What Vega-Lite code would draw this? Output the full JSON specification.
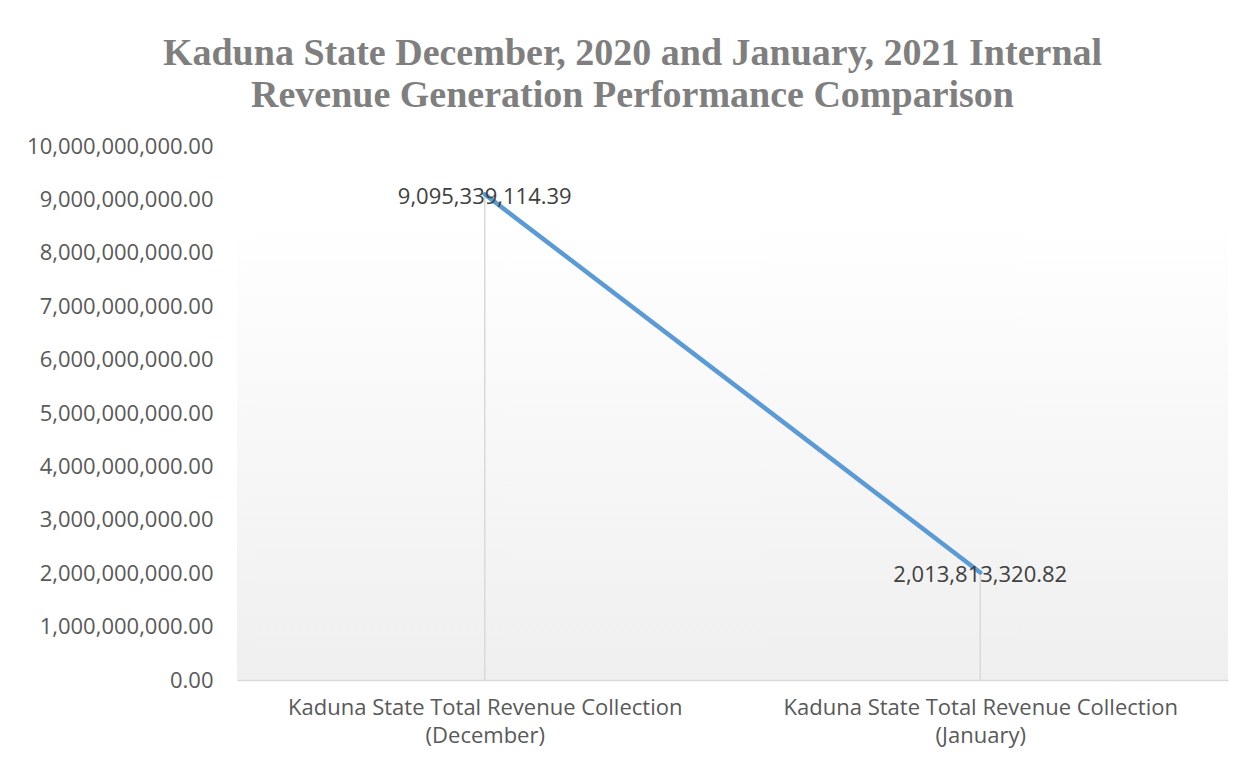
{
  "$schema": "https://vega.github.io/schema/vega-lite/v6.json",
  "width": 991,
  "height": 534,
  "autosize": {"type": "none"},
  "padding": {"left": 237, "top": 146, "right": 25, "bottom": 86},
  "background": "#ffffff",
  "title": {
    "text": ["Kaduna State December, 2020 and January, 2021 Internal", "Revenue Generation Performance Comparison"],
    "font": "Liberation Serif",
    "fontSize": 38,
    "fontWeight": "bold",
    "color": "#7f7f7f",
    "anchor": "middle",
    "dx": -100,
    "offset": 20,
    "lineHeight": 42
  },
  "data": {
    "values": [
      {"category": "Kaduna State Total Revenue Collection\n(December)", "order": 1, "revenue": 9095339114.39},
      {"category": "Kaduna State Total Revenue Collection\n(January)", "order": 2, "revenue": 2013813320.82}
    ]
  },
  "encoding": {
    "x": {
      "field": "category",
      "type": "nominal",
      "sort": {"field": "order"},
      "scale": {"type": "point", "padding": 0.5},
      "axis": {
        "title": null,
        "labelAngle": 0,
        "labelExpr": "split(datum.label, '\\n')",
        "labelFont": "Open Sans",
        "labelFontSize": 22,
        "labelColor": "#595959",
        "labelLineHeight": 28,
        "labelPadding": 17,
        "labelLimit": 0,
        "ticks": false,
        "domainColor": "#d9d9d9",
        "domainWidth": 1.5,
        "grid": false
      }
    },
    "y": {
      "field": "revenue",
      "type": "quantitative",
      "scale": {"domain": [0, 10000000000], "nice": false},
      "axis": {
        "title": null,
        "values": [0, 1000000000, 2000000000, 3000000000, 4000000000, 5000000000, 6000000000, 7000000000, 8000000000, 9000000000, 10000000000],
        "format": ",.2f",
        "labelFont": "Open Sans",
        "labelFontSize": 22,
        "labelColor": "#595959",
        "labelPadding": 24,
        "labelLimit": 0,
        "ticks": false,
        "domain": false,
        "grid": false
      }
    }
  },
  "layer": [
    {
      "mark": {"type": "rule", "color": "#d9d9d9", "strokeWidth": 1.5},
      "encoding": {"y2": {"datum": 0}}
    },
    {
      "mark": {"type": "line", "color": "#5b9bd5", "strokeWidth": 4.5, "strokeCap": "round"},
      "encoding": {}
    },
    {
      "mark": {"type": "text", "font": "Open Sans", "fontSize": 22, "color": "#404040", "baseline": "middle", "align": "center", "dy": 3},
      "encoding": {"text": {"field": "revenue", "type": "quantitative", "format": ",.2f"}}
    }
  ],
  "config": {
    "view": {
      "stroke": null,
      "fill": {
        "gradient": "linear",
        "x1": 0, "y1": 0, "x2": 0, "y2": 1,
        "stops": [
          {"offset": 0, "color": "#ffffff"},
          {"offset": 0.13, "color": "#ffffff"},
          {"offset": 1, "color": "#efefef"}
        ]
      }
    }
  }
}
